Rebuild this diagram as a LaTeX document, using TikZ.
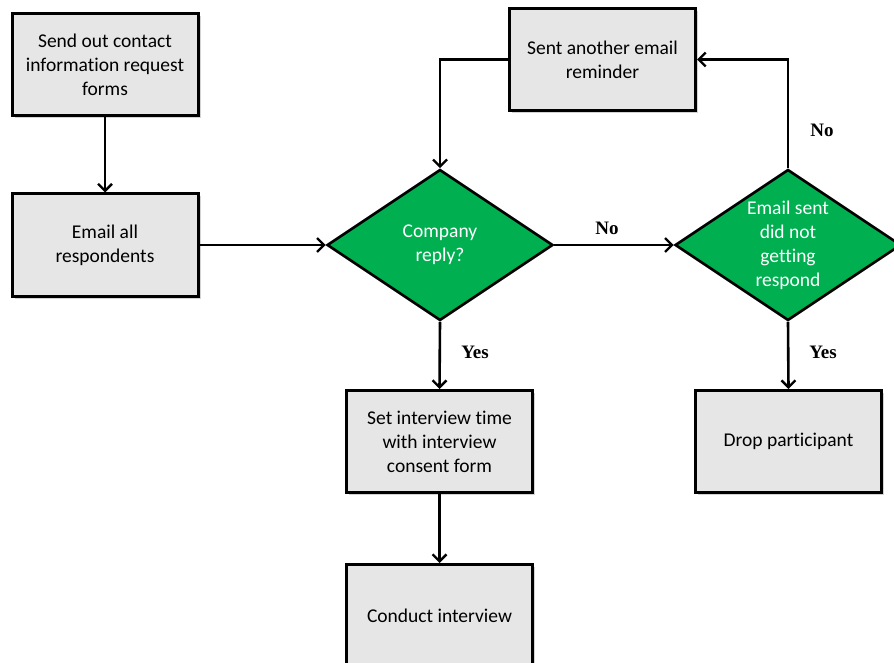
\documentclass[tikz,border=0pt]{standalone}
\usepackage{fontspec}
\setmainfont[Ligatures=CommonOff]{Carlito}
\newfontfamily\lblfont{Liberation Serif}
\usetikzlibrary{shapes.geometric,arrows.meta,shadows}
\begin{document}
\begin{tikzpicture}[x=1pt,y=-1pt,
  box/.style={draw=black, line width=3pt, fill={rgb,255:red,230;green,230;blue,230},
    minimum width=186pt, minimum height=102pt, inner sep=0pt, align=center,
    font=\fontsize{19.5}{24}\selectfont,
    drop shadow={shadow xshift=2.5pt, shadow yshift=-2.5pt, opacity=0.35, fill=gray}},
  dia/.style={diamond, draw=black, line width=2.6pt, fill={rgb,255:red,0;green,176;blue,80},
    minimum width=226pt, minimum height=151pt, inner sep=0pt},
  dtext/.style={text=white, align=center, font=\fontsize{19.5}{24}\selectfont},
  conn/.style={line width=2.6pt, -{Straight Barb[length=7pt,width=14pt,line width=2.4pt]}},
  lbl/.style={font=\lblfont\bfseries\fontsize{19}{22}\selectfont}
]
\useasboundingbox (0,0) rectangle (894,663);

\node[box] (b1) at (105,65) {Send out contact\\information request\\forms};
\node[box] (b2) at (105,245) {Email all\\respondents};
\node[box] (b3) at (602.5,59.5) {Sent another email\\reminder};
\node[box] (b4) at (439.5,441.5) {Set interview time\\with interview\\consent form};
\node[box] (b5) at (439.5,615.5) {Conduct interview};
\node[box] (b6) at (788.5,441.5) {Drop participant};

\node[dia, label={[dtext]center:{Company\\reply?}}] (d1) at (440,245) {};
\node[dia, label={[dtext]center:{Email sent\\did not\\getting\\respond}}] (d2) at (788,245) {};

\draw[conn] (b1.south) -- (b2.north);
\draw[conn] (b2.east) -- (d1.west);
\draw[conn] (d1.east) -- (d2.west);
\draw[conn] (d2.north) |- (b3.east);
\draw[conn] (b3.west) -| (d1.north);
\draw[conn] (d1.south) -- (b4.north);
\draw[conn] (d2.south) -- (b6.north);
\draw[conn] (b4.south) -- (b5.north);

\node[lbl] (no1) at (607,228) {No};
\node[lbl] (no2) at (822,130) {No};
\node[lbl] (yes1) at (475,352) {Yes};
\node[lbl] (yes2) at (823,352) {Yes};
\end{tikzpicture}
\end{document}
